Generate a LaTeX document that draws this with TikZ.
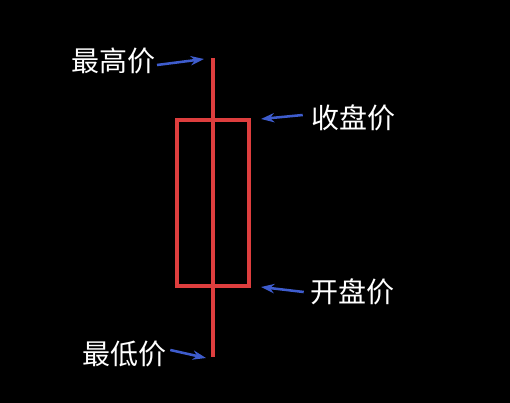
\documentclass[tikz,border=0pt]{standalone}
\usepackage{fontspec}
\newfontfamily\cjk{Noto Sans CJK SC}
\usetikzlibrary{arrows.meta}
\definecolor{candle}{RGB}{222,62,62}
\definecolor{arr}{RGB}{62,92,205}
\begin{document}
\begin{tikzpicture}[x=0.75pt,y=-0.75pt,
  lbl/.style={text=white,font=\cjk\fontsize{21}{21}\selectfont,inner sep=0pt},
  pointer/.style={draw=arr,line width=1.9pt,-{Stealth[length=10pt,width=7pt]}},
  stick/.style={draw=candle,line width=2.6pt}]
\fill[black] (0,0) rectangle (510,403);
\useasboundingbox (0,0) rectangle (510,403);
\coordinate (top) at (213,58);
\coordinate (bot) at (213,357);
\draw[stick] (top) -- (bot);
\node[stick,draw,minimum width=72*0.75pt,minimum height=166*0.75pt,inner sep=0pt] (body) at (213,203) {};
\node[lbl] (high) at (113,61) {最高价};
\node[lbl] (close) at (353,118) {收盘价};
\node[lbl] (open) at (352,292) {开盘价};
\node[lbl] (low) at (124,354) {最低价};
\coordinate (hi) at (204,59);
\coordinate (ci) at (261,119);
\coordinate (oi) at (261,287);
\coordinate (li) at (206,358);
\draw[pointer] (157,65) -- (hi);
\draw[pointer] (close.west) ++(-8,-3) -- (ci);
\draw[pointer] (open.west) ++(-6,0) -- (oi);
\draw[pointer] (low.east) ++(4,-4) -- (li);
\end{tikzpicture}
\end{document}
